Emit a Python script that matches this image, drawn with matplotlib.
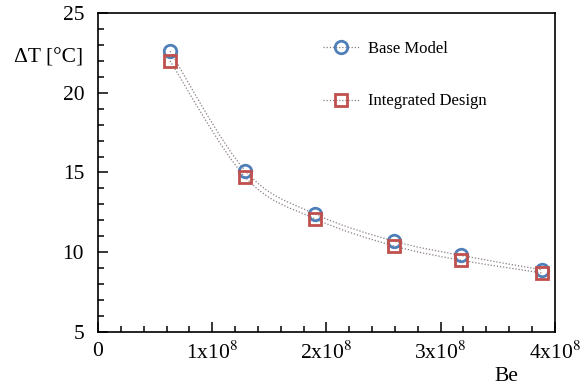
import numpy as np
import matplotlib.pyplot as plt
from matplotlib.path import Path
from matplotlib.patches import PathPatch
from matplotlib.lines import Line2D
from matplotlib.ticker import MultipleLocator, FuncFormatter

plt.rcParams['font.family'] = ['Liberation Serif', 'DejaVu Serif']
plt.rcParams['mathtext.fontset'] = 'stix'

# data
be = [0.63e8, 1.29e8, 1.90e8, 2.59e8, 3.18e8, 3.89e8]
dt_base = [22.6, 15.1, 12.4, 10.7, 9.8, 8.9]
dt_integrated = [22.0, 14.7, 12.1, 10.4, 9.5, 8.7]

blue = '#4f7fb8'
red = '#c0504d'
dots = (0, (1, 1.5))


def smooth_path(x, y):
    # Catmull-Rom style bezier through the points
    x = np.asarray(x)
    y = np.asarray(y)
    verts = [(x[0], y[0])]
    codes = [Path.MOVETO]
    n = len(x)
    for i in range(n - 1):
        x0, y0 = (x[i - 1], y[i - 1]) if i > 0 else (x[i], y[i])
        x3, y3 = (x[i + 2], y[i + 2]) if i + 2 < n else (x[i + 1], y[i + 1])
        c1 = (x[i] + (x[i + 1] - x0) / 6, y[i] + (y[i + 1] - y0) / 6)
        c2 = (x[i + 1] - (x3 - x[i]) / 6, y[i + 1] - (y3 - y[i]) / 6)
        verts += [c1, c2, (x[i + 1], y[i + 1])]
        codes += [Path.CURVE4] * 3
    return Path(verts, codes)


fig, ax = plt.subplots(figsize=(5.87, 3.92), dpi=100)
fig.subplots_adjust(left=0.167, right=0.945, top=0.967, bottom=0.153)

for ys, col, mk in [(dt_base, blue, 'o'), (dt_integrated, red, 's')]:
    ax.add_patch(PathPatch(smooth_path(be, ys), facecolor='none',
                           edgecolor='#8c7f80', lw=0.9, ls=dots))
    ax.plot(be, ys, ls='none', marker=mk, ms=9, mfc='none', mec=col, mew=2)

ax.set_xlim(0, 4e8)
ax.set_ylim(5, 25)
ax.xaxis.set_major_locator(MultipleLocator(1e8))
ax.xaxis.set_minor_locator(MultipleLocator(0.2e8))
ax.yaxis.set_major_locator(MultipleLocator(5))
ax.yaxis.set_minor_locator(MultipleLocator(1))


def fmt(v, pos):
    k = int(round(v / 1e8))
    return '0' if k == 0 else r'%dx10$^8$' % k


ax.xaxis.set_major_formatter(FuncFormatter(fmt))
ax.tick_params(which='both', direction='in', top=False, right=False,
               labelsize=15.5, width=1.1)
ax.tick_params(axis='x', pad=7)
ax.tick_params(axis='y', pad=10)
ax.tick_params(which='major', length=7)
ax.tick_params(which='minor', length=4)
for s in ax.spines.values():
    s.set_linewidth(1.2)

ax.text(-0.032, 0.86, 'ΔT [°C]', transform=ax.transAxes, fontsize=15.5,
        ha='right', va='center')
ax.text(0.895, -0.14, 'Be', transform=ax.transAxes, fontsize=15.5,
        ha='center', va='center')

handles = [Line2D([], [], color='#8c7f80', lw=0.9, ls=dots, marker='o',
                  ms=9, mfc='none', mec=blue, mew=2),
           Line2D([], [], color='#8c7f80', lw=0.9, ls=dots, marker='s',
                  ms=9, mfc='none', mec=red, mew=2)]
ax.legend(handles, ['Base Model', 'Integrated Design'], loc='upper left',
          bbox_to_anchor=(0.46, 0.96), frameon=False, fontsize=12,
          labelspacing=2.2, handlelength=2.2, handletextpad=0.5)

fig.savefig('out.png', dpi=100)
